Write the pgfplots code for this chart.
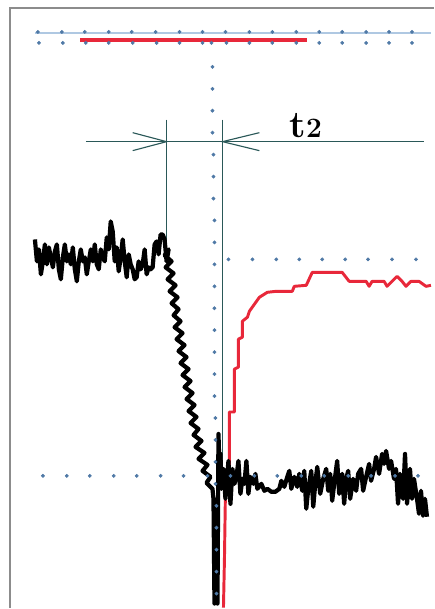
\documentclass[border=0pt]{standalone}
\usepackage{pgfplots}
\pgfplotsset{compat=1.18}
\definecolor{frame}{HTML}{8C8C8C}
\definecolor{dotc}{HTML}{4F79A6}
\definecolor{lblue}{HTML}{AFC8E2}
\definecolor{teal}{HTML}{2A5858}
\definecolor{sigred}{HTML}{E8283A}
\begin{document}
\begin{tikzpicture}
\begin{axis}[
  scale only axis, width=10.875cm, height=15.225cm,
  xmin=0, xmax=435, ymin=0, ymax=609, y dir=reverse,
  hide axis, clip=false]
% bounding corners
\addplot[draw=none] coordinates {(0,0) (435,609)};
% frame
\addplot[frame, line width=1.4pt] coordinates {(10,609) (10,8) (435,8)};
% top light blue line
\addplot[lblue, line width=1.1pt] coordinates {(35,33) (432,33)};
% top dot rows
\addplot[only marks, mark=*, mark size=1.15pt, dotc] coordinates {
(38,32)(62,32)(85,32)(109,32)(132,32)(156,32)(180,32)(203,32)(226,32)(250,32)(273,32)(297,32)(320,32)(343,32)(367,32)(390,32)(413,32)
(39,43)(63,43)(86,43)(109,43)(133,43)(157,43)(180,43)(203,43)(212,43)(227,43)(250,43)(273,43)(297,43)(320,43)(343,43)(367,43)(390,43)(413,43)};
% red top bar
\addplot[sigred, line width=3pt] coordinates {(80,40) (308,40)};
% vertical dotted line
\addplot[only marks, mark=*, mark size=1.15pt, dotc] coordinates {
(213,67)(213,89)(213,111)(213,133)(214,155)(214,177)(214,199)(215,221)(215,243)(215,265)(215,287)(215,309)(215,331)(215,353)(215,375)(215,397)(216,419)(216,441)(216,463)(216,485)(217,507)(217,529)(217,551)(217,573)(217,595)};
% horizontal dotted rows
\addplot[only marks, mark=*, mark size=1.15pt, dotc] coordinates {
(229,260)(253,260)(277,260)(300,260)(323,260)(346,260)(369,260)(393,260)(417,260)
(43,477)(67,477)(90,477)(114,477)(137,477)(161,477)(184,477)(208,477)(231,477)(255,477)(278,477)(302,477)(325,477)(349,477)(372,477)(396,477)(419,477)};
% t2 annotation lines
\addplot[teal, line width=0.8pt] coordinates {(86,142) (425,142)};
\addplot[teal, line width=1.1pt] coordinates {(167,120) (167,250)};
\addplot[teal, line width=1.1pt] coordinates {(223,120) (223,490)};
\addplot[teal, line width=0.8pt] coordinates {(133,133) (167,142) (133,151)};
\addplot[teal, line width=0.8pt] coordinates {(260,133) (223,142) (260,151)};
\node[anchor=base west, inner sep=0pt] at (axis cs:290,138) {\bfseries{\fontsize{27}{29}\selectfont t}{\fontsize{20}{22}\selectfont 2}};
% red signal
\addplot[sigred, line width=2.1pt, line join=round] coordinates {
(224,609)(225,560)(226,492)(230,488)(230,413)(235,413)(235,370)(239,368)(239,340)(243,338)(243,322)(248,318)(250,312)(255,305)(260,298)(268,293)(277,292)(293,292)(295,287)(307,286)(313,273)(343,273)(350,282)(367,282)(370,287)(373,282)(385,282)(388,287)(393,282)(398,277)(403,282)(407,287)(412,282)(420,282)(427,287)(432,286)};
% black signal
\addplot[black, line width=3pt, line join=round] coordinates {
(35,240)(37,262)(39,250)(41,275)(43,262)(45,245)(47,265)(49,248)(51,258)(53,268)(55,252)(57,245)(59,270)(61,280)(63,258)(65,245)(67,262)(69,255)(71,265)(73,248)(75,270)(77,282)(79,262)(81,250)(83,262)(85,258)(87,275)(89,262)(91,250)(93,262)(95,245)(97,265)(99,270)(101,250)(103,258)(105,262)(107,238)(109,250)(111,222)(113,232)(115,262)(117,248)(119,272)(121,258)(123,240)(125,262)(127,278)(129,255)(131,265)(133,270)(135,280)(137,278)(139,262)(141,270)(143,265)(145,250)(147,275)(149,268)(151,270)(153,268)(155,245)(157,242)(159,255)(161,235)(163,235)(165,240)(167,262)
(169,250)(165,256)(172,262)(166,268)(174,274)(168,280)(176,286)(170,292)(178,298)(172,304)(179,310)(174,316)(181,322)(175,328)(183,334)(177,340)(185,346)(179,352)(187,358)(181,364)(189,370)(183,376)(191,382)(185,388)(193,394)(187,400)(195,406)(189,412)(197,418)(191,424)(199,430)(194,436)(202,442)(196,448)(205,454)(199,460)(208,466)(203,472)(211,478)(207,484)(213,490)(214,500)(215,605)(217,560)(218,605)(219,435)(220,470)(221,455)
(222,490)(224,470)(226,500)(229,462)(231,505)(233,470)(235,485)(237,478)(239,462)(241,495)(243,480)(245,485)(247,462)(249,495)(251,478)(254,485)(256,475)(258,490)(262,485)(265,492)(268,490)(272,493)(276,493)(280,490)(282,482)(285,488)(288,478)(290,472)(292,490)(295,478)(298,488)(300,475)(303,492)(305,472)(307,510)(309,490)(312,472)(314,508)(316,485)(318,468)(321,495)(324,480)(327,470)(329,492)(331,475)(333,502)(335,485)(338,462)(340,495)(343,475)(345,505)(347,480)(349,472)(351,500)(354,480)(357,492)(359,475)(362,470)(364,492)(367,478)(370,465)(372,482)(375,470)(377,458)(380,475)(383,455)(385,465)(387,452)(390,470)(392,462)(395,480)(397,470)(399,505)(401,475)(404,500)(406,455)(408,505)(411,470)(413,500)(415,480)(418,500)(420,515)(422,492)(424,517)(426,500)(428,518)};
\end{axis}
\end{tikzpicture}
\end{document}
